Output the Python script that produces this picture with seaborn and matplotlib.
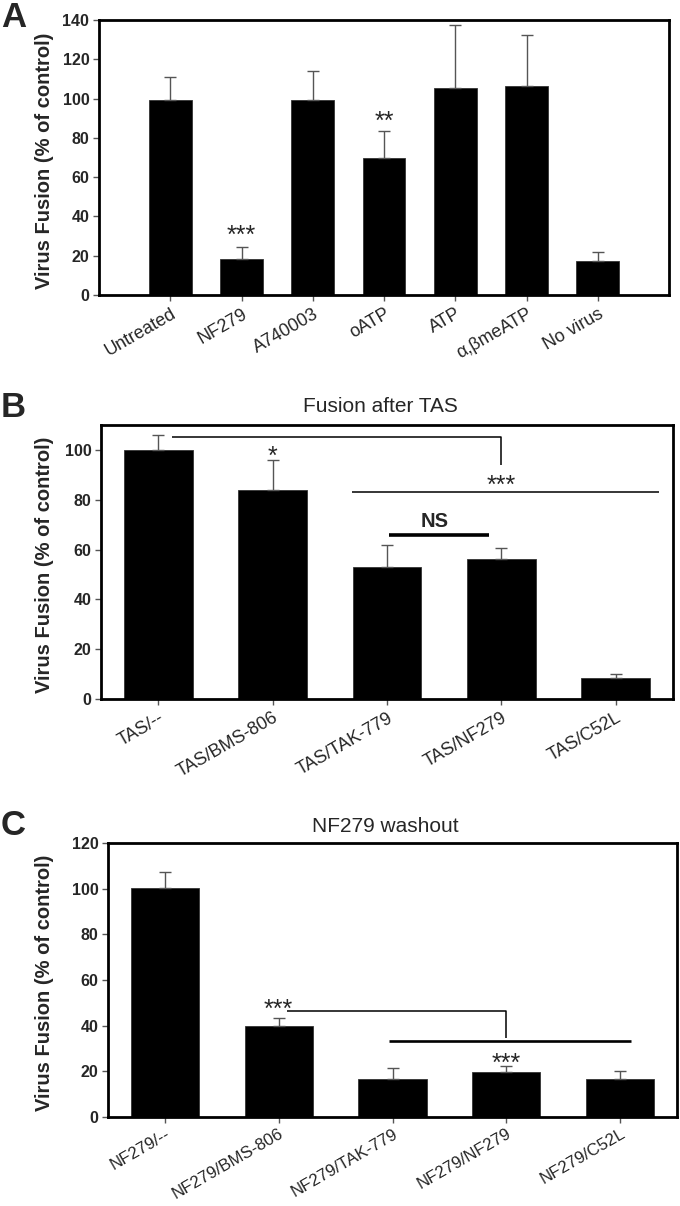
import matplotlib
matplotlib.use("Agg")
import matplotlib.pyplot as plt
import seaborn as sns
import numpy as np

# ---------------- data ----------------
a_labels = ["Untreated", "NF279", "A740003", "oATP", "ATP", "α,βmeATP", "No virus"]
a_values = [99.5, 18.2, 99.3, 69.6, 105.5, 106.4, 17.4]
a_errors = [11.5, 6.4, 14.5, 13.7, 31.9, 25.8, 4.6]

b_labels = ["TAS/--", "TAS/BMS-806", "TAS/TAK-779", "TAS/NF279", "TAS/C52L"]
b_values = [100, 84, 53, 56.3, 8.4]
b_errors = [6, 12, 9, 4.4, 1.6]

c_labels = ["NF279/--", "NF279/BMS-806", "NF279/TAK-779", "NF279/NF279", "NF279/C52L"]
c_values = [100.3, 39.8, 16.5, 19.8, 16.5]
c_errors = [7, 3.6, 4.8, 2.4, 3.5]

titles = ["", "Fusion after TAS", "NF279 washout"]
panel_letters = ["A", "B", "C"]
ylabel = "Virus Fusion (% of control)"

a_yticks = [0, 20, 40, 60, 80, 100, 120, 140]
b_yticks = [0, 20, 40, 60, 80, 100]
c_yticks = [0, 20, 40, 60, 80, 100, 120]

# significance marks: (text, x, y)
a_stars = [("***", 1, 33.6), ("**", 3, 92)]
b_stars = [("*", 1, 100), ("***", 3, 88.5)]
c_stars = [("***", 1, 50), ("***", 3, 26.4)]
# bracket lines: (x list, y list, linewidth)
b_lines = [([0.12, 3.0, 3.0], [105, 105, 94], 1.1),
           ([1.69, 4.38], [83.3, 83.3], 1.1),
           ([2.02, 2.89], [66, 66], 2.6)]
c_lines = [([1.07, 3.0, 3.0], [46.4, 46.4, 34.6], 1.1),
           ([1.97, 4.1], [33.5, 33.5], 1.9)]
b_ns = ("NS", 2.42, 72)

# ---------------- style ----------------
sns.set_style("ticks")
plt.rcParams["font.family"] = ["Liberation Sans", "DejaVu Sans"]

W, H = 680, 1206
fig = plt.figure(figsize=(W / 100, H / 100), dpi=100)


def px_axes(left, top, right, bottom):
    return fig.add_axes([left / W, 1 - bottom / H, (right - left) / W, (bottom - top) / H])


panels = [
    dict(box=(99, 20, 669, 295), labels=a_labels, values=a_values, errors=a_errors,
         ylim=(0, 140), yticks=a_yticks, xlim=(-1, 7), stars=a_stars, lines=[], ns=None,
         title="", letter_base=27, title_pad=0, xfs=13, xpad=3.5),
    dict(box=(101, 425, 673, 699), labels=b_labels, values=b_values, errors=b_errors,
         ylim=(0, 110), yticks=b_yticks, xlim=(-0.5, 4.5), stars=b_stars, lines=b_lines, ns=b_ns,
         title=titles[1], letter_base=417, title_pad=9, xfs=13, xpad=3.5),
    dict(box=(108, 843, 677, 1117), labels=c_labels, values=c_values, errors=c_errors,
         ylim=(0, 120), yticks=c_yticks, xlim=(-0.5, 4.5), stars=c_stars, lines=c_lines, ns=None,
         title=titles[2], letter_base=835, title_pad=8, xfs=12.2, xpad=2.5),
]

for i, p in enumerate(panels):
    ax = px_axes(*p["box"])
    sns.barplot(x=p["labels"], y=p["values"], color="black", saturation=1, width=0.6,
                errorbar=None, edgecolor="#333333", linewidth=0.6, ax=ax, zorder=2)
    n = len(p["labels"])
    pos = np.arange(n)
    ax.errorbar(pos, p["values"], yerr=[np.zeros(n), p["errors"]], fmt="none",
                ecolor="#555555", elinewidth=1.0, capsize=4.3, capthick=1.0, zorder=3)
    ax.set_xlim(*p["xlim"])
    ax.set_ylim(*p["ylim"])
    ax.set_yticks(p["yticks"])
    ax.set_yticklabels([str(t) for t in p["yticks"]], fontsize=11.5, fontweight="bold")
    ax.set_xticks(pos)
    ax.set_xticklabels(p["labels"], fontsize=p["xfs"], rotation=30, ha="right",
                       rotation_mode="anchor", va="top")
    ax.tick_params(axis="both", direction="out", length=4, width=1, color="#555555")
    ax.tick_params(axis="x", pad=p["xpad"])
    ax.tick_params(axis="y", pad=3)
    ax.set_xlabel("")
    ax.set_ylabel("")
    for s in ax.spines.values():
        s.set_visible(True)
        s.set_linewidth(2.0)
        s.set_color("black")

    for txt, x, y in p["stars"]:
        ax.annotate(txt, xy=(x, y), xytext=(0, -0.57 * 18), textcoords="offset points",
                    ha="center", va="baseline", fontsize=18, zorder=5)
    for xs, ys, lw in p["lines"]:
        ax.plot(xs, ys, color="black", lw=lw, solid_capstyle="butt", zorder=4)
    if p["ns"] is not None:
        txt, x, y = p["ns"]
        ax.annotate(txt, xy=(x, y), xytext=(0, -0.36 * 14.5), textcoords="offset points",
                    ha="center", va="baseline", fontsize=14.5, fontweight="bold", zorder=5)
    if p["title"]:
        ax.set_title(p["title"], fontsize=15, pad=p["title_pad"], x=0.488)

    left, top, right, bottom = p["box"]
    fig.text(44 / W, 1 - ((top + bottom) / 2 + 3) / H, ylabel, rotation=90,
             ha="center", va="center", fontsize=14.5, fontweight="bold")
    fig.text(1 / W, 1 - p["letter_base"] / H, panel_letters[i], fontsize=25,
             fontweight="bold", ha="left", va="baseline")

fig.savefig("out.png", dpi=100)
